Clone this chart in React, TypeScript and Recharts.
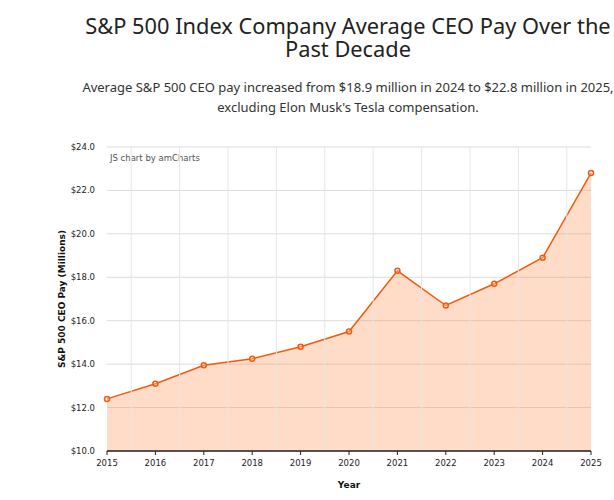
import React from "react";
import {
  ComposedChart,
  Area,
  XAxis,
  YAxis,
  CartesianGrid,
  ReferenceLine,
} from "recharts";

const years = [2015, 2016, 2017, 2018, 2019, 2020, 2021, 2022, 2023, 2024, 2025];
const ceoPay = [12.4, 13.1, 13.95, 14.25, 14.8, 15.5, 18.3, 16.7, 17.7, 18.9, 22.8];
const payTicks = [10, 12, 14, 16, 18, 20, 22, 24];

const data = years.map((year, i) => ({ year, pay: ceoPay[i] }));
// vertical grid sits between the years, like the amCharts cell borders
const midYears = years.slice(0, -1).map((y) => y + 0.5);

const ORANGE = "#F55A0C";
const AXIS_FONT = "DejaVu Sans, Verdana, sans-serif";

function YLabel(props: any) {
  const { viewBox } = props;
  const cx = viewBox.x + 5;
  const cy = viewBox.y + viewBox.height / 2;
  return (
    <text
      x={cx}
      y={cy}
      transform={`rotate(-90, ${cx}, ${cy})`}
      textAnchor="middle"
      dominantBaseline="central"
      fontFamily={AXIS_FONT}
      fontSize={9}
      fontWeight={700}
      fill="#111"
    >
      S&amp;P 500 CEO Pay (Millions)
    </text>
  );
}

const titleLine = { fontSize: 21.8, lineHeight: "23px", height: 23, color: "#222" };
const subLine = { fontSize: 13, lineHeight: "20px", height: 20, color: "#333" };

export default function App() {
  return (
    <div
      style={{
        position: "absolute",
        left: 0,
        top: 0,
        width: 614,
        height: 500,
        overflow: "hidden",
        background: "#fff",
      }}
    >
      <div
        style={{
          position: "absolute",
          left: 68,
          top: 14,
          width: 560,
          textAlign: "center",
          fontFamily: "'Noto Sans', sans-serif",
        }}
      >
        <div style={titleLine}>S&amp;P 500 Index Company Average CEO Pay Over the</div>
        <div style={titleLine}>Past Decade</div>
        <div style={{ ...subLine, marginTop: 17 }}>
          Average S&amp;P 500 CEO pay increased from $18.9 million in 2024 to $22.8 million in 2025,
        </div>
        <div style={subLine}>excluding Elon Musk's Tesla compensation.</div>
      </div>

      <div style={{ position: "absolute", left: 0, top: 130 }}>
        <ComposedChart
          width={614}
          height={370}
          data={data}
          margin={{ top: 17, right: 23, bottom: 19, left: 57 }}
        >
          <CartesianGrid vertical={false} stroke="#dcdcdc" />
          {midYears.map((m) => (
            <ReferenceLine key={m} x={m} stroke="#e6e6e6" strokeWidth={1} ifOverflow="visible" />
          ))}
          <XAxis
            dataKey="year"
            type="number"
            domain={[2015, 2025]}
            ticks={years}
            interval={0}
            allowDecimals={false}
            height={30}
            axisLine={{ stroke: "#222", strokeWidth: 1.5 }}
            tickLine={{ stroke: "#222" }}
            tickSize={4}
            tickMargin={5}
            tick={{ fill: "#222", fontSize: 8.5, fontFamily: AXIS_FONT }}
            label={{
              value: "Year",
              position: "insideBottom",
              offset: -7,
              fill: "#111",
              fontSize: 9,
              fontWeight: 700,
              fontFamily: AXIS_FONT,
            }}
          />
          <YAxis
            type="number"
            domain={[10, 24]}
            ticks={payTicks}
            width={50}
            axisLine={false}
            tickLine={false}
            tickMargin={6}
            tickFormatter={(v: number) => `$${v.toFixed(1)}`}
            tick={{ fill: "#222", fontSize: 8.5, fontFamily: AXIS_FONT }}
            label={<YLabel />}
          />
          <Area
            type="linear"
            dataKey="pay"
            stroke={ORANGE}
            strokeWidth={1.5}
            fill="#FB8A45"
            fillOpacity={0.3}
            dot={{ r: 2.5, fill: "#fff", stroke: ORANGE, strokeWidth: 1.5 }}
            activeDot={false}
            isAnimationActive={false}
          />
          <text x={110} y={31} fontSize={8.5} fill="#555" fontFamily={AXIS_FONT}>
            JS chart by amCharts
          </text>
        </ComposedChart>
      </div>
    </div>
  );
}
